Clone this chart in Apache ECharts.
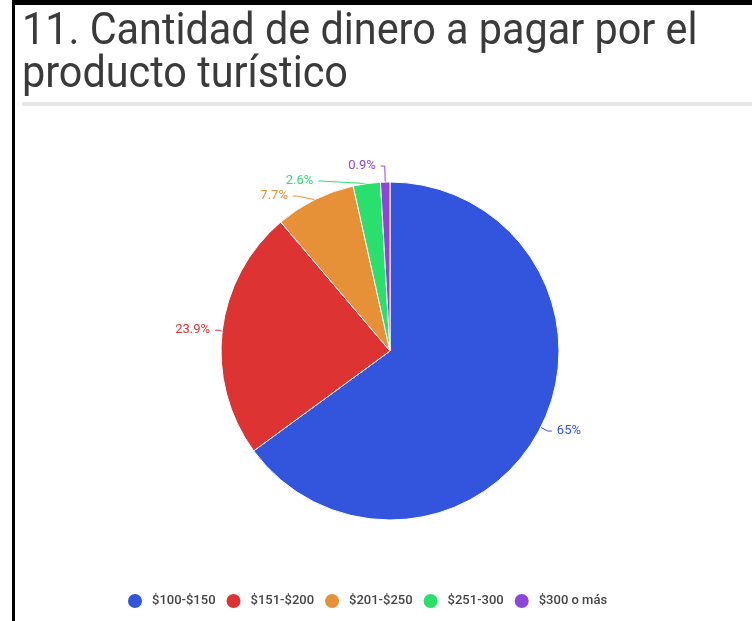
<!DOCTYPE html>
<html>
<head>
<meta charset="utf-8">
<script src="https://cdn.jsdelivr.net/npm/echarts@6/dist/echarts.min.js"></script>
<style>
  html, body { margin: 0; padding: 0; background: #fff; }
  #chart { width: 752px; height: 621px; }
</style>
</head>
<body>
<div id="chart"></div>
<script>
// datos del gráfico
var categorias = ['$100-$150', '$151-$200', '$201-$250', '$251-300', '$300 o más'];
var valores = [65, 23.9, 7.7, 2.6, 0.9];
var colores = ['#3355dd', '#dd3333', '#e69138', '#2ae06c', '#8e46d9'];
var tituloLineas = ['11. Cantidad de dinero a pagar por el', 'producto turístico'];

(function () {
    var myChart = echarts.init(document.getElementById('chart'));

    // largo de la línea de etiqueta (las porciones chicas van más arriba)
    var largoLinea = [8, 8, 10, 14, 16];

    var datos = categorias.map(function (c, i) {
        return { name: c, value: valores[i], labelLine: { length: largoLinea[i] } };
    });

    var option = {
        backgroundColor: '#fff',
        color: colores,
        // bordes y título como gráficos sueltos
        graphic: [
            { type: 'rect', shape: { x: 12, y: 0, width: 740, height: 5 }, style: { fill: '#000' } },
            { type: 'rect', shape: { x: 12, y: 0, width: 3, height: 621 }, style: { fill: '#000' } },
            { type: 'rect', shape: { x: 22, y: 102, width: 730, height: 4 }, style: { fill: '#e6e6e6' } },
            {
                type: 'text', x: 22, y: 11, scaleX: 0.94,
                style: { text: tituloLineas[0], fill: '#3a3a3a', font: '44px Roboto' }
            },
            {
                type: 'text', x: 22, y: 54, scaleX: 0.94,
                style: { text: tituloLineas[1], fill: '#3a3a3a', font: '44px Roboto' }
            }
        ],
        legend: {
            data: categorias,
            left: 121,
            top: 587,
            icon: 'circle',
            itemWidth: 16,
            itemHeight: 16,
            itemGap: 9,
            textStyle: {
                fontFamily: 'Roboto',
                fontSize: 13,
                fontWeight: 500,
                color: '#444',
                padding: [0, 0, 0, 4]
            }
        },
        series: [
            {
                type: 'pie',
                center: [390, 351],
                radius: 169,
                startAngle: 90,
                clockwise: true,
                data: datos,
                itemStyle: {
                    borderColor: '#fff',
                    borderWidth: 1
                },
                label: {
                    show: true,
                    position: 'outside',
                    formatter: '{c}%',
                    fontFamily: 'Roboto',
                    fontSize: 13,
                    color: 'inherit'
                },
                labelLine: {
                    show: true,
                    length: 8,
                    length2: 4
                },
                emphasis: { disabled: true }
            }
        ]
    };

    myChart.setOption(option);
    window.addEventListener('resize', function () {
        myChart.resize();
    });
})();
</script>
</body>
</html>
